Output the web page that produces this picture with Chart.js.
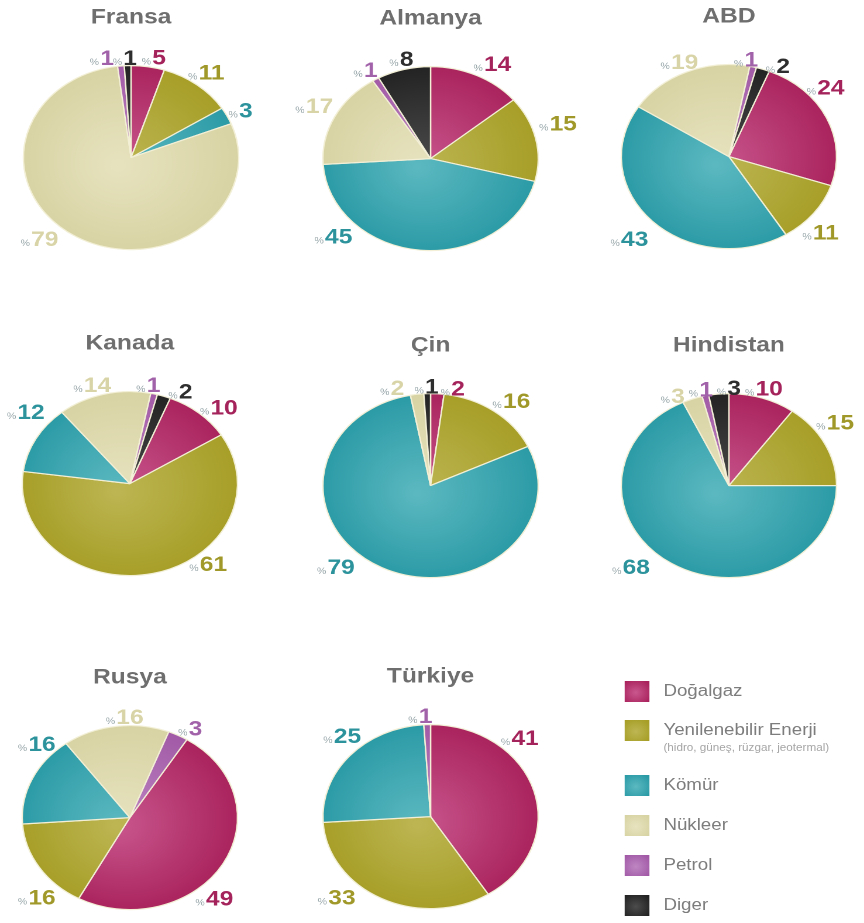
<!DOCTYPE html>
<html><head><meta charset="utf-8">
<script src="https://cdn.jsdelivr.net/npm/chart.js@4.4.0/dist/chart.umd.min.js"></script>
<style>
html,body{margin:0;padding:0;background:#fff;overflow:hidden;width:864px;height:923px;}
#stage{position:absolute;left:0;top:0;width:739px;height:923px;transform:scaleX(1.17);transform-origin:0 0;}
.pie{position:absolute;}
.lg-sw{position:absolute;width:21px;height:21px;}
.lg-tx{position:absolute;font-family:"Liberation Sans",Arial,sans-serif;font-size:16px;color:#7d7d7d;white-space:nowrap;line-height:18px;}
.lg-note{position:absolute;font-family:"Liberation Sans",Arial,sans-serif;font-size:10px;color:#a6a6a6;white-space:nowrap;line-height:12px;}
</style></head>
<body><div id="stage"></div>
<script>
// ---------- DATA ----------
const categories = ['Doğalgaz', 'Yenilenebilir Enerji', 'Kömür', 'Nükleer', 'Petrol', 'Diger'];
const countries = ['Fransa', 'Almanya', 'ABD', 'Kanada', 'Çin', 'Hindistan', 'Rusya', 'Türkiye'];
const fransa    = [5, 11, 3, 79, 1, 1];
const almanya   = [14, 15, 45, 17, 1, 8];
const abd       = [24, 11, 43, 19, 1, 2];
const kanada    = [10, 61, 12, 14, 1, 2];
const cin       = [2, 16, 79, 2, 0, 1];
const hindistan = [10, 15, 68, 3, 1, 3];
const rusya     = [49, 16, 16, 16, 3, 0];
const turkiye   = [41, 33, 25, 0, 1, 0];
const seriesValues = [fransa, almanya, abd, kanada, cin, hindistan, rusya, turkiye];
const valuePrefix = '%';
const legendNote = '(hidro, güneş, rüzgar, jeotermal)';

// ---------- STYLE / LAYOUT ----------
const sliceColors = ['#a9225c', '#a69e26', '#2a9aa5', '#d8d3a3', '#a159a6', '#222222'];
const sliceLight  = ['#c9578e', '#bdb653', '#5cb9c1', '#e7e3bf', '#be86c2', '#4c4c4c'];
const labelColors = ['#a5235b', '#a0992a', '#2c929c', '#d9d4a7', '#a262aa', '#2e2e2e'];
const PIE_R = 92;
const CW = 280, CH = 300;
const pieCenters = [
  [111.5, 158], [368, 159], [623, 157],
  [111, 484], [368, 486], [623, 486],
  [111, 818], [368, 817]
];
const pieRotation = [0, 0, 22, 22, 0, 0, 32, 0];
// label placement: [angle from 12 o'clock (deg), radius factor]
const labelSpots = [
  [[11,1.09],[37,1.14],[63,1.12],[224,1.2],[346,1.1],[357,1.07]],
  [[29,1.16],[72,1.22],[227,1.21],[298,1.2],[328,1.12],[346,1.1]],
  [[50,1.15],[134,1.16],[226,1.26],[336,1.11],[8.5,1.05],[24.6,1.07]],
  [[44.8,1.15],[140,1.11],[309,1.22],[342,1.11],[9,1.07],[25,1.09]],
  [[11,1.06],[39,1.17],[225,1.22],[341.5,1.1],null,[358,1.06]],
  [[17,1.09],[55,1.18],[226,1.24],[332,1.09],[346,1.06],[0,1.045]],
  [[138,1.15],[225,1.2],[313,1.16],[357.5,1.08],[30,1.1],null],
  [[44,1.17],[225,1.21],[317,1.18],null,[355,1.08],null]
];
const legendRows = [691, 730, 785, 825, 865, 905];
const FONT = '"Liberation Sans", Arial, sans-serif';

const outsideLabels = {
  id: 'outsideLabels',
  afterDatasetsDraw(chart, args, opts) {
    const ctx = chart.ctx;
    const meta = chart.getDatasetMeta(0);
    const data = chart.data.datasets[0].data;
    const spots = opts.spots || [];
    meta.data.forEach((arc, i) => {
      const v = data[i];
      if (!v) return;
      const p = arc.getProps(['x', 'y', 'outerRadius', 'startAngle', 'endAngle'], true);
      let ang, f = 1.12;
      if (spots[i]) { ang = spots[i][0] * Math.PI / 180 - Math.PI / 2; f = spots[i][1]; }
      else { ang = (p.startAngle + p.endAngle) / 2; }
      const px = p.x + Math.cos(ang) * p.outerRadius * f * 1.02;
      const py = p.y + Math.sin(ang) * p.outerRadius * f * 1.02;
      const numText = String(v);
      ctx.save();
      ctx.font = 'bold 21px ' + FONT;
      const nw = ctx.measureText(numText).width;
      ctx.font = '9px ' + FONT;
      const pw = ctx.measureText(valuePrefix).width;
      const total = pw + 1 + nw;
      const left = px - total / 2;
      const base = py + 7.5;
      ctx.textBaseline = 'alphabetic';
      ctx.textAlign = 'left';
      ctx.fillStyle = '#9aa8ab';
      ctx.fillText(valuePrefix, left, base);
      ctx.font = 'bold 21px ' + FONT;
      ctx.fillStyle = labelColors[i];
      ctx.fillText(numText, left + pw + 1, base);
      ctx.restore();
    });
  }
};

const stage = document.getElementById('stage');

countries.forEach((name, k) => {
  const [cx, cy] = pieCenters[k];
  const cv = document.createElement('canvas');
  cv.className = 'pie';
  cv.width = CW; cv.height = CH;
  cv.style.left = (cx - CW / 2) + 'px';
  cv.style.top = (cy - 152.6) + 'px';
  cv.style.width = CW + 'px';
  cv.style.height = CH + 'px';
  stage.appendChild(cv);
  new Chart(cv, {
    type: 'pie',
    data: {
      labels: categories,
      datasets: [{
        data: seriesValues[k],
        backgroundColor: (c) => {
          const i = c.dataIndex;
          const chart = c.chart, a = chart.chartArea;
          if (!a) return sliceColors[i];
          const x = (a.left + a.right) / 2, y = (a.top + a.bottom) / 2;
          const g = chart.ctx.createRadialGradient(x - 12, y + 8, 0, x, y, PIE_R + 4);
          g.addColorStop(0, sliceLight[i]);
          g.addColorStop(1, sliceColors[i]);
          return g;
        },
        borderColor: '#f2efd6',
        borderWidth: 1.2
      }]
    },
    options: {
      responsive: false,
      animation: false,
      devicePixelRatio: 2,
      radius: PIE_R,
      rotation: pieRotation[k],
      layout: { padding: { top: 0, left: 0, right: 0, bottom: 20 } },
      plugins: {
        legend: { display: false },
        tooltip: { enabled: false },
        title: {
          display: true, text: name, color: '#6e6e6e',
          font: { family: FONT, size: 21, weight: 'bold', lineHeight: 1.2 },
          padding: 0
        },
        outsideLabels: { spots: labelSpots[k] }
      }
    },
    plugins: [outsideLabels]
  });
});

// legend
categories.forEach((cat, i) => {
  const y = legendRows[i];
  const sw = document.createElement('div');
  sw.className = 'lg-sw';
  sw.style.left = '534px';
  sw.style.top = (y - 10.5) + 'px';
  sw.style.background = 'radial-gradient(circle at 45% 55%, ' + sliceLight[i] + ' 0%, ' + sliceColors[i] + ' 85%)';
  stage.appendChild(sw);
  const tx = document.createElement('div');
  tx.className = 'lg-tx';
  tx.textContent = cat;
  tx.style.left = '567px';
  tx.style.top = (y - 9) + 'px';
  stage.appendChild(tx);
  if (i === 1) {
    const nt = document.createElement('div');
    nt.className = 'lg-note';
    nt.textContent = legendNote;
    nt.style.left = '567px';
    nt.style.top = (y + 12) + 'px';
    stage.appendChild(nt);
  }
});
</script>
</body></html>
